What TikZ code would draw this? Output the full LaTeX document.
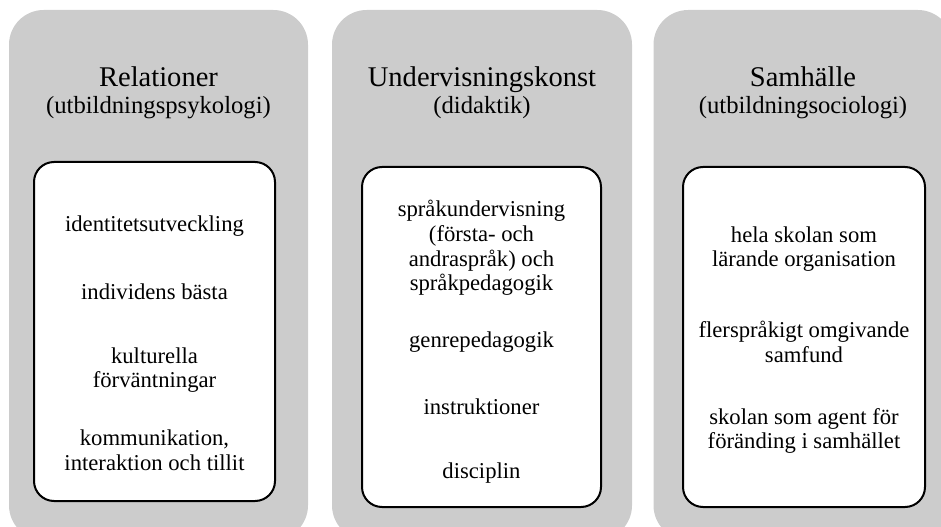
\documentclass[tikz,border=0pt]{standalone}
\usepackage{fontspec}
\setmainfont{Liberation Serif}
\definecolor{panelgray}{RGB}{204,204,204}
\begin{document}
\begin{tikzpicture}[x=0.75pt,y=-0.75pt,
  panel/.style={rectangle, rounded corners=26pt, fill=panelgray, draw=none, minimum height=397.5pt, inner sep=0pt},
  card/.style={rectangle, rounded corners=15pt, fill=white, draw=black, line width=1.5pt, inner sep=0pt},
  title/.style={anchor=base, font=\fontsize{21.4}{24}\selectfont, inner sep=0pt},
  sub/.style={anchor=base, font=\fontsize{18.5}{22}\selectfont, inner sep=0pt},
  item/.style={align=center, font=\fontsize{17}{18.5}\selectfont, inner sep=0pt}]
\useasboundingbox (0,0) rectangle (941,527);
\clip (0,0) rectangle (941,527);
% panels
\node[panel, minimum width=224.25pt] (p1) at (158.5,275) {};
\node[panel, minimum width=225pt] (p2) at (482,275) {};
\node[panel, minimum width=224.25pt] (p3) at (803,275) {};
% titles
\node[title] (t1) at (158.5,87) {Relationer};
\node[sub] (s1) at (158.5,114) {(utbildningspsykologi)};
\node[title] (t2) at (482,87) {Undervisningskonst};
\node[sub] (s2) at (482,114) {(didaktik)};
\node[title] (t3) at (803,87) {Samhälle};
\node[sub] (s3) at (803,114) {(utbildningsociologi)};
% cards
\node[card, minimum width=180.75pt, minimum height=254.25pt] (c1) at (154.5,331.5) {};
\node[card, minimum width=179.25pt, minimum height=255pt] (c2) at (481.5,337) {};
\node[card, minimum width=181.5pt, minimum height=255pt] (c3) at (804,337) {};
% items card 1
\node[item] (a1) at (154.5,226) {identitetsutveckling};
\node[item] (a2) at (154.5,292) {individens bästa};
\node[item] (a3) at (154.5,370) {kulturella\\förväntningar};
\node[item] (a4) at (154.5,450) {kommunikation,\\interaktion och tillit};
% items card 2
\node[item] (b1) at (481.5,248) {språkundervisning\\(första- och\\andraspråk) och\\språkpedagogik};
\node[item] (b2) at (481.5,342) {genrepedagogik};
\node[item] (b3) at (481.5,407) {instruktioner};
\node[item] (b4) at (481.5,473) {disciplin};
% items card 3
\node[item] (d1) at (804,249) {hela skolan som\\lärande organisation};
\node[item] (d2) at (804,342) {flerspråkigt omgivande\\samfund};
\node[item] (d3) at (804,431) {skolan som agent för\\föränding i samhället};
\end{tikzpicture}
\end{document}
